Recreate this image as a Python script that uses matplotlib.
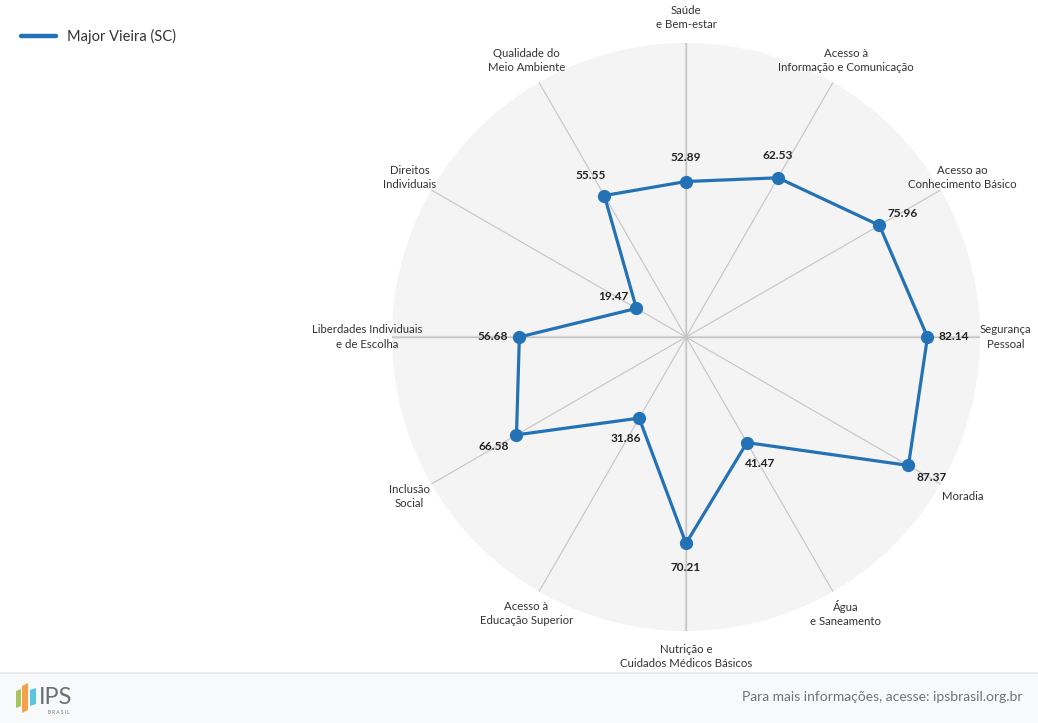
import numpy as np
import matplotlib
matplotlib.use("Agg")
import matplotlib.pyplot as plt
from matplotlib.lines import Line2D
from matplotlib.patches import Rectangle, Polygon

plt.rcParams['font.family'] = ['Lato', 'DejaVu Sans']

# Données
categorias = [
    "Saúde\ne Bem-estar",
    "Acesso à\nInformação e Comunicação",
    "Acesso ao\nConhecimento Básico",
    "Segurança\nPessoal",
    "Moradia",
    "Água\ne Saneamento",
    "Nutrição e\nCuidados Médicos Básicos",
    "Acesso à\nEducação Superior",
    "Inclusão\nSocial",
    "Liberdades Individuais\ne de Escolha",
    "Direitos\nIndividuais",
    "Qualidade do\nMeio Ambiente",
]
valores = [52.89, 62.53, 75.96, 82.14, 87.37, 41.47, 70.21, 31.86, 66.58, 56.68, 19.47, 55.55]
serie = "Major Vieira (SC)"

AZUL = '#2372b5'
W, H = 1038, 723
cx, cy, R = 686, 337, 294

fig = plt.figure(figsize=(W / 100, H / 100), dpi=100)
fig.patch.set_facecolor('white')

# Rodapé
fig.patches.append(Rectangle((0, 0), 1, 50 / H, transform=fig.transFigure,
                             facecolor='#f8f9fa', edgecolor='none', zorder=0))
fig.lines.append(Line2D([0, 1], [50 / H, 50 / H], transform=fig.transFigure,
                        color='#e6e8eb', lw=1.2))

def px(x, y):
    return x / W, 1 - y / H

barras = [
    ([(16, 691), (21, 689), (21, 706), (16, 708)], '#a9c25a'),
    ([(22, 686), (28, 683), (28, 710), (22, 713)], '#f5a04a'),
    ([(30, 690), (36, 688), (36, 704), (30, 706)], '#5ec3e0'),
]
for pts, cor in barras:
    fig.patches.append(Polygon([px(*p) for p in pts], closed=True, transform=fig.transFigure,
                               facecolor=cor, edgecolor='none'))
fig.text(*px(39, 704), "IPS", fontsize=17, color='#6b6f75', va='baseline', ha='left')
fig.text(*px(48, 712), "B R A S I L", fontsize=3.4, color='#6b6f75', va='center', ha='left')
fig.text(*px(1022, 697), "Para mais informações, acesse: ipsbrasil.org.br",
         fontsize=10, color='#6c737c', ha='right', va='center')

# Radar
ax = fig.add_axes([(cx - R) / W, (H - cy - R) / H, 2 * R / W, 2 * R / H], projection='polar')
ax.set_theta_zero_location('N')
ax.set_theta_direction(-1)
ax.set_facecolor('#f4f4f4')
ax.spines['polar'].set_visible(False)
ax.set_ylim(0, 100)
ax.set_yticks([])

n = len(categorias)
angulos = np.linspace(0, 2 * np.pi, n, endpoint=False)
ax.set_xticks(angulos)
ax.set_xticklabels([])
ax.xaxis.grid(True, color='#c4c4c4', lw=0.8)
ax.yaxis.grid(False)
for a in angulos[::3]:
    ax.plot([a, a], [0, 100], color='#d8d8d8', lw=1.6, zorder=1)

ang_f = np.append(angulos, angulos[0])
val_f = np.append(valores, valores[0])
ax.plot(ang_f, val_f, color=AZUL, lw=2.3, zorder=3, solid_joinstyle='round')
ax.plot(angulos, valores, 'o', color=AZUL, ms=8.5, zorder=4)

# Rótulos das categorias
for a, c in zip(angulos, categorias):
    ax.text(a, 108.6, c, ha='center', va='center', fontsize=8.2, color='#333333',
            multialignment='center', clip_on=False, linespacing=1.35)

# Rótulos dos valores
for i, (a, v) in enumerate(zip(angulos, valores)):
    dx, dy = 19 * np.sin(a), 17 * np.cos(a)
    if i == 1:
        dx, dy = 0, 16
    ax.annotate(f"{v:.2f}", (a, v), xytext=(dx, dy), textcoords='offset points',
                ha='center', va='center', fontsize=8.6, fontweight='bold', color='#222222',
                zorder=5)

leg = [Line2D([0], [0], color=AZUL, lw=3.2, solid_capstyle='round')]
fig.legend(leg, [serie], loc='upper left', bbox_to_anchor=(0.0072, 0.978), frameon=False,
           fontsize=10.5, handlelength=2.4, handletextpad=0.75, labelcolor='#333333')

fig.savefig("out.png", dpi=100)
